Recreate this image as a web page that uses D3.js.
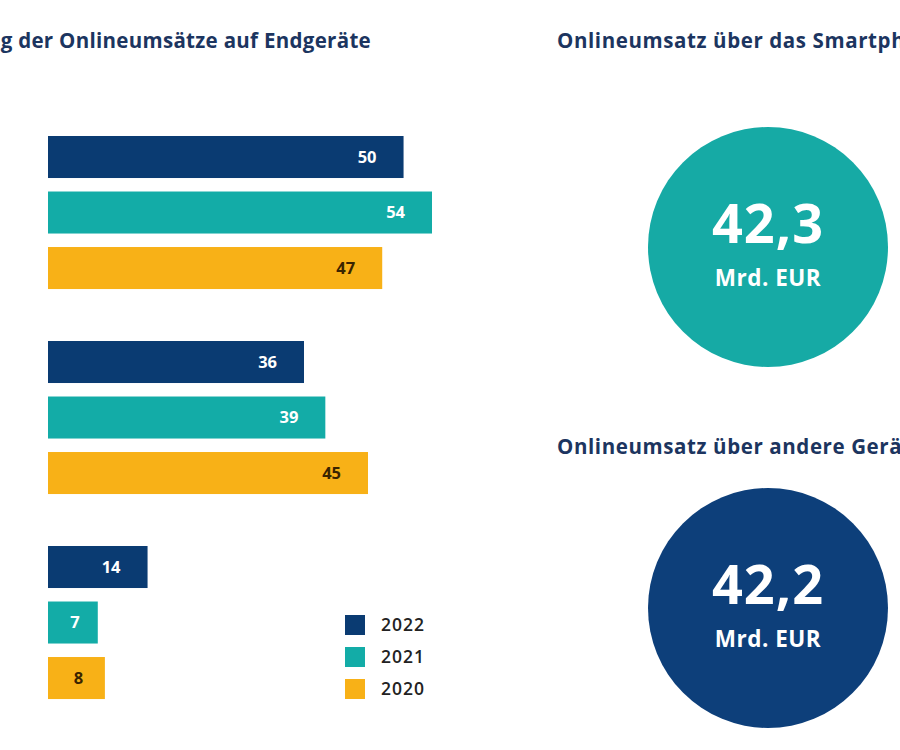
<!DOCTYPE html>
<html>
<head>
<meta charset="utf-8">
<script src="https://cdn.jsdelivr.net/npm/d3@7"></script>
<style>
  html, body { margin: 0; padding: 0; background: #ffffff; }
  svg { display: block; }
  text { font-family: "Open Sans", "Noto Sans", sans-serif; }
</style>
</head>
<body>
<svg id="chart" width="900" height="750"></svg>
<script>
// ---- data ----
const categories = ["Smartphone", "Desktop / Laptop", "Tablet"];
const years = ["2022", "2021", "2020"];
const values2022 = [50, 36, 14];
const values2021 = [54, 39, 7];
const values2020 = [47, 45, 8];
const mainTitle = "Verteilung der Onlineumsätze auf Endgeräte";
const kpiTitles = ["Onlineumsatz über das Smartphone", "Onlineumsatz über andere Geräte"];
const kpiValues = ["42,3", "42,2"];
const kpiUnit = "Mrd. EUR";

// ---- styles ----
const colors = { "2022": "#0a3b72", "2021": "#13aca7", "2020": "#f8b117" };
const labelColors = { "2022": "#ffffff", "2021": "#ffffff", "2020": "#3a2400" };
const titleColor = "#1c3560";
const kpiColors = ["#16aaa5", "#0d3f7a"];

const svg = d3.select("#chart");

// titles
svg.append("text")
  .attr("x", 371).attr("y", 48)
  .attr("text-anchor", "end")
  .attr("font-size", 20.5).attr("font-weight", 700)
  .attr("letter-spacing", 0.3)
  .attr("fill", titleColor)
  .text(mainTitle);

// bar chart
const seriesByYear = { "2022": values2022, "2021": values2021, "2020": values2020 };
const x = d3.scaleLinear().domain([0, 54]).range([48, 432]);
const yGroup = d3.scaleBand().domain(categories).range([136, 751]);
const yInner = d3.scaleBand().domain(years).range([0, 205])
  .paddingInner(0.243).paddingOuter(0.468).align(0);

const groups = svg.selectAll("g.grp").data(categories).join("g")
  .attr("class", "grp")
  .attr("transform", d => `translate(0,${yGroup(d)})`);

groups.each(function(cat, ci) {
  const g = d3.select(this);
  years.forEach(yr => {
    const v = seriesByYear[yr][ci];
    const y0 = yInner(yr);
    const w = x(v) - x(0);
    g.append("rect")
      .attr("x", x(0)).attr("y", y0)
      .attr("width", w).attr("height", yInner.bandwidth())
      .attr("fill", colors[yr]);
    const small = w < 70;
    g.append("text")
      .attr("x", small ? x(0) + w / 2 + 2 : x(v) - 27)
      .attr("y", y0 + yInner.bandwidth() / 2)
      .attr("dy", "0.36em")
      .attr("text-anchor", small ? "middle" : "end")
      .attr("font-size", 16.5).attr("font-weight", 700)
      .attr("fill", labelColors[yr])
      .text(v);
  });
});

// legend
const legend = svg.append("g").attr("transform", "translate(345,615)");
years.forEach((yr, i) => {
  const row = legend.append("g").attr("transform", `translate(0,${i * 32})`);
  row.append("rect").attr("width", 20).attr("height", 20).attr("fill", colors[yr]);
  row.append("text")
    .attr("x", 36).attr("y", 10).attr("dy", "0.36em")
    .attr("font-size", 17.5).attr("font-weight", 600)
    .attr("letter-spacing", 1)
    .attr("fill", "#222222")
    .text(yr);
});

// KPI circles
const kpiCenters = [247, 608];
const kpiTitleY = [48, 454];
kpiValues.forEach((val, i) => {
  svg.append("text")
    .attr("x", 557).attr("y", kpiTitleY[i])
    .attr("font-size", 20.5).attr("font-weight", 700)
    .attr("letter-spacing", 0.6)
    .attr("fill", titleColor)
    .text(kpiTitles[i]);
  const g = svg.append("g").attr("transform", `translate(768,${kpiCenters[i]})`);
  g.append("circle").attr("r", 120).attr("fill", kpiColors[i]);
  g.append("text")
    .attr("y", -4)
    .attr("text-anchor", "middle")
    .attr("font-size", 54).attr("font-weight", 700)
    .attr("letter-spacing", 1)
    .attr("fill", "#ffffff")
    .text(val);
  g.append("text")
    .attr("y", 39)
    .attr("text-anchor", "middle")
    .attr("font-size", 22.5).attr("font-weight", 700)
    .attr("letter-spacing", 0.5)
    .attr("fill", "#ffffff")
    .text(kpiUnit);
});
</script>
</body>
</html>
